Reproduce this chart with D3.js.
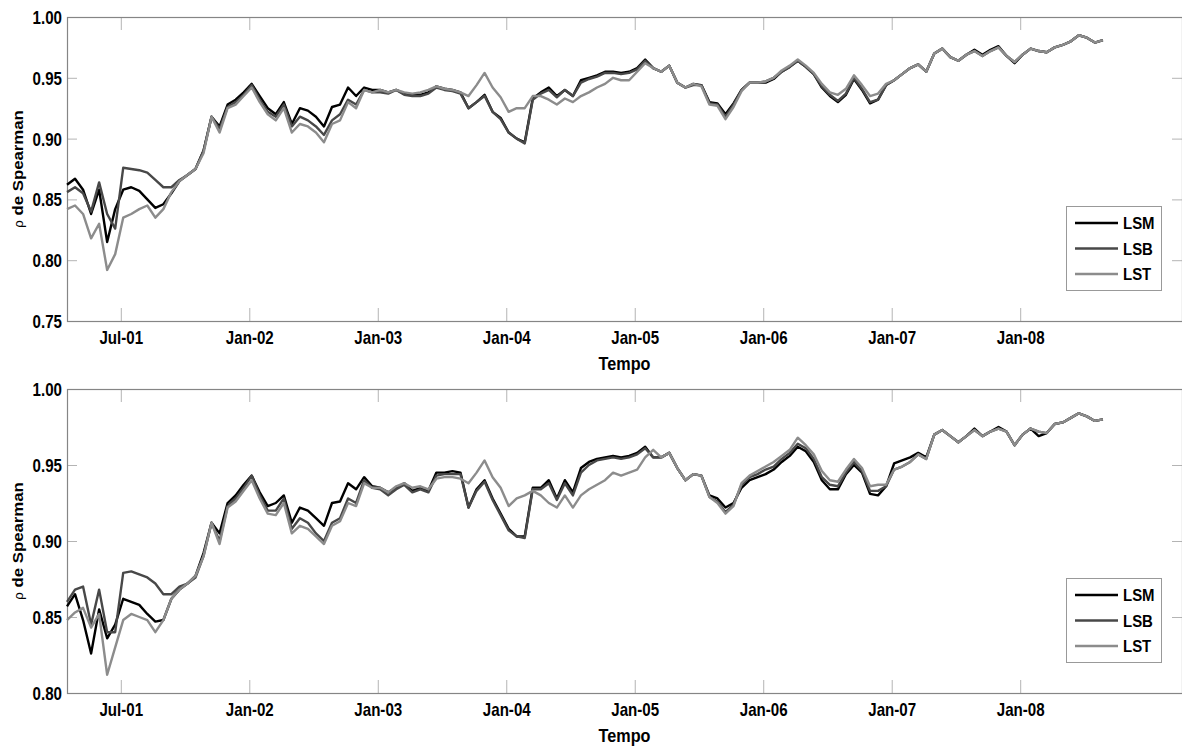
<!DOCTYPE html>
<html>
<head>
<meta charset="utf-8">
<script src="https://cdn.jsdelivr.net/npm/d3@7"></script>
<style>
body { margin: 0; background: #fff; }
text { font-family: "Liberation Sans", Arial, sans-serif; font-weight: bold; fill: #000; }
</style>
</head>
<body>
<script>
var w = 1182, h = 747;

var tickPos = [6.7, 22.7, 38.7, 54.7, 70.7, 86.7, 102.7, 118.7];
var tickLabels = ["Jul-01", "Jan-02", "Jan-03", "Jan-04", "Jan-05", "Jan-06", "Jan-07", "Jan-08"];
var yTicksTop = [0.75, 0.80, 0.85, 0.90, 0.95, 1.00];
var yTicksBot = [0.80, 0.85, 0.90, 0.95, 1.00];
var names = ["LSM", "LSB", "LST"];

// top panel
var lsmTop = [
  0.862,0.867,0.858,0.838,0.858,0.815,0.842,0.858,0.860,0.857,
  0.850,0.843,0.846,0.855,0.865,0.870,0.875,0.890,0.918,0.910,
  0.928,0.932,0.938,0.945,0.935,0.925,0.920,0.930,0.912,0.925,
  0.923,0.918,0.910,0.926,0.928,0.942,0.935,0.942,0.940,0.940,
  0.938,0.940,0.937,0.936,0.936,0.938,0.943,0.941,0.940,0.938,
  0.925,0.930,0.936,0.922,0.917,0.905,0.900,0.897,0.933,0.938,
  0.942,0.935,0.940,0.935,0.948,0.950,0.952,0.955,0.955,0.954,
  0.955,0.958,0.965,0.958,0.955,0.960,0.946,0.942,0.945,0.944,
  0.930,0.929,0.920,0.929,0.940,0.946,0.946,0.946,0.949,0.955,
  0.959,0.964,0.959,0.953,0.942,0.935,0.930,0.936,0.949,0.940,
  0.929,0.932,0.944,0.948,0.953,0.958,0.961,0.955,0.970,0.974,
  0.967,0.964,0.969,0.973,0.969,0.973,0.976,0.968,0.962,0.969,
  0.974,0.972,0.971,0.975,0.977,0.980,0.985,0.983,0.979,0.981];
var lsbTop = [
  0.856,0.860,0.855,0.840,0.864,0.838,0.826,0.876,0.875,0.874,
  0.872,0.866,0.860,0.860,0.866,0.870,0.875,0.890,0.918,0.908,
  0.926,0.930,0.936,0.944,0.932,0.922,0.918,0.928,0.910,0.918,
  0.915,0.910,0.903,0.915,0.920,0.932,0.928,0.940,0.938,0.938,
  0.937,0.940,0.936,0.935,0.935,0.937,0.942,0.940,0.939,0.937,
  0.925,0.930,0.935,0.922,0.916,0.905,0.900,0.896,0.932,0.937,
  0.940,0.934,0.940,0.935,0.946,0.949,0.951,0.954,0.954,0.953,
  0.954,0.957,0.964,0.958,0.955,0.960,0.946,0.942,0.944,0.944,
  0.929,0.928,0.918,0.928,0.940,0.946,0.946,0.947,0.950,0.955,
  0.959,0.964,0.959,0.953,0.943,0.936,0.931,0.937,0.950,0.941,
  0.930,0.932,0.944,0.948,0.953,0.958,0.961,0.955,0.970,0.974,
  0.967,0.964,0.969,0.972,0.968,0.972,0.975,0.968,0.963,0.969,
  0.974,0.972,0.971,0.975,0.977,0.980,0.985,0.983,0.979,0.981];
var lstTop = [
  0.842,0.845,0.838,0.818,0.830,0.792,0.805,0.835,0.838,0.842,
  0.845,0.835,0.842,0.856,0.865,0.870,0.875,0.888,0.918,0.905,
  0.925,0.928,0.935,0.942,0.930,0.920,0.915,0.925,0.905,0.912,
  0.910,0.905,0.897,0.912,0.915,0.930,0.925,0.940,0.938,0.940,
  0.938,0.940,0.938,0.937,0.938,0.940,0.943,0.941,0.940,0.938,
  0.935,0.944,0.954,0.942,0.934,0.922,0.925,0.925,0.935,0.935,
  0.932,0.928,0.933,0.930,0.935,0.938,0.942,0.945,0.950,0.948,
  0.948,0.955,0.962,0.958,0.955,0.960,0.946,0.942,0.945,0.943,
  0.928,0.927,0.916,0.926,0.939,0.946,0.946,0.947,0.950,0.956,
  0.960,0.965,0.960,0.954,0.945,0.938,0.936,0.941,0.952,0.944,
  0.935,0.937,0.945,0.948,0.953,0.958,0.961,0.955,0.970,0.974,
  0.967,0.964,0.969,0.972,0.968,0.972,0.975,0.968,0.963,0.969,
  0.974,0.972,0.971,0.975,0.977,0.980,0.985,0.983,0.979,0.981];

// bottom panel
var lsmBot = [
  0.857,0.865,0.848,0.826,0.855,0.836,0.845,0.862,0.860,0.858,
  0.852,0.847,0.848,0.862,0.868,0.872,0.877,0.892,0.912,0.905,
  0.925,0.930,0.937,0.943,0.932,0.923,0.925,0.930,0.912,0.922,
  0.920,0.915,0.910,0.925,0.926,0.938,0.934,0.942,0.936,0.935,
  0.932,0.935,0.938,0.933,0.935,0.933,0.945,0.945,0.946,0.945,
  0.922,0.934,0.940,0.928,0.918,0.908,0.903,0.903,0.935,0.935,
  0.940,0.928,0.940,0.932,0.948,0.952,0.954,0.955,0.956,0.955,
  0.956,0.958,0.962,0.955,0.955,0.958,0.948,0.940,0.944,0.943,
  0.930,0.928,0.922,0.925,0.935,0.940,0.942,0.944,0.947,0.952,
  0.956,0.962,0.959,0.952,0.940,0.934,0.934,0.944,0.950,0.945,
  0.931,0.930,0.936,0.951,0.953,0.955,0.958,0.955,0.970,0.973,
  0.969,0.965,0.969,0.974,0.969,0.972,0.975,0.972,0.963,0.970,
  0.974,0.969,0.971,0.977,0.978,0.981,0.984,0.982,0.979,0.980];
var lsbBot = [
  0.860,0.868,0.870,0.845,0.868,0.840,0.840,0.879,0.880,0.878,
  0.876,0.872,0.865,0.865,0.870,0.872,0.876,0.890,0.912,0.900,
  0.923,0.928,0.935,0.943,0.930,0.920,0.920,0.928,0.908,0.915,
  0.912,0.905,0.900,0.912,0.915,0.928,0.925,0.940,0.935,0.934,
  0.930,0.934,0.937,0.932,0.934,0.932,0.943,0.944,0.944,0.944,
  0.922,0.933,0.939,0.927,0.917,0.907,0.903,0.902,0.934,0.934,
  0.938,0.927,0.938,0.930,0.945,0.950,0.953,0.954,0.955,0.954,
  0.955,0.957,0.961,0.955,0.955,0.958,0.948,0.940,0.944,0.943,
  0.929,0.926,0.919,0.924,0.937,0.942,0.944,0.947,0.949,0.954,
  0.958,0.964,0.961,0.954,0.942,0.937,0.936,0.945,0.952,0.946,
  0.933,0.933,0.936,0.947,0.949,0.952,0.957,0.954,0.970,0.973,
  0.969,0.965,0.969,0.973,0.969,0.972,0.974,0.972,0.963,0.970,
  0.974,0.972,0.971,0.977,0.978,0.981,0.984,0.982,0.979,0.980];
var lstBot = [
  0.848,0.853,0.856,0.843,0.852,0.812,0.830,0.848,0.852,0.850,
  0.848,0.840,0.848,0.862,0.868,0.872,0.877,0.890,0.912,0.898,
  0.922,0.926,0.933,0.940,0.928,0.918,0.917,0.925,0.905,0.910,
  0.908,0.903,0.898,0.910,0.913,0.925,0.923,0.938,0.935,0.935,
  0.932,0.936,0.938,0.935,0.936,0.934,0.941,0.942,0.942,0.941,
  0.938,0.945,0.953,0.942,0.935,0.923,0.928,0.930,0.933,0.930,
  0.925,0.922,0.930,0.922,0.930,0.934,0.937,0.940,0.945,0.943,
  0.945,0.947,0.955,0.960,0.955,0.958,0.948,0.940,0.944,0.943,
  0.929,0.925,0.918,0.923,0.938,0.943,0.946,0.949,0.952,0.956,
  0.960,0.968,0.963,0.957,0.946,0.940,0.939,0.947,0.954,0.948,
  0.936,0.937,0.937,0.947,0.949,0.952,0.957,0.954,0.970,0.973,
  0.969,0.965,0.969,0.973,0.969,0.972,0.974,0.972,0.963,0.970,
  0.974,0.972,0.971,0.977,0.978,0.981,0.984,0.982,0.979,0.980];

var colors = ["#000000", "#484848", "#8c8c8c"];
var left = 67, right = 1182;

var svg = d3.select("body")
  .append("svg")
  .attr("width", w)
  .attr("height", h);

function drawPanel(top, bottom, yDomain, yTicks, series) {
  var xScale = d3.scaleLinear().domain([0, 138.85]).range([left, right]);
  var yScale = d3.scaleLinear().domain(yDomain).range([bottom, top]);
  var g = svg.append("g");

  // ticks (inside), light grey
  var xb = d3.axisBottom(xScale).tickValues(tickPos)
    .tickFormat(function(d, i) { return tickLabels[i]; })
    .tickSizeInner(-13).tickSizeOuter(0);
  var gxb = g.append("g").attr("transform", "translate(0," + bottom + ")").call(xb);
  gxb.selectAll("text")
    .attr("y", 23).attr("dy", 0)
    .attr("transform", "scale(0.84,1)")
    .style("font-size", "18px");

  var xt = d3.axisTop(xScale).tickValues(tickPos).tickFormat("")
    .tickSizeInner(-13).tickSizeOuter(0);
  g.append("g").attr("transform", "translate(0," + top + ")").call(xt);

  var yl = d3.axisLeft(yScale).tickValues(yTicks).tickFormat(d3.format(".2f"))
    .tickSizeInner(-10).tickSizeOuter(0);
  var gyl = g.append("g").attr("transform", "translate(" + left + ",0)").call(yl);
  gyl.selectAll("text")
    .attr("x", -5 / 0.84).attr("dy", "0.36em")
    .attr("transform", "scale(0.84,1)")
    .style("font-size", "18px");

  var yr = d3.axisRight(yScale).tickValues(yTicks).tickFormat("")
    .tickSizeInner(-10).tickSizeOuter(0);
  g.append("g").attr("transform", "translate(" + right + ",0)").call(yr);

  g.selectAll(".tick line").attr("stroke", "#b4b4b4");
  g.selectAll(".domain").remove();

  // box
  g.append("rect")
    .attr("x", left + 0.5).attr("y", top + 0.5)
    .attr("width", right - left).attr("height", bottom - top)
    .attr("fill", "none").attr("stroke", "#858585").attr("stroke-width", 1.2);

  // lines
  var line = d3.line()
    .x(function(d, i) { return xScale(i); })
    .y(function(d) { return yScale(d); });
  series.forEach(function(s, k) {
    g.append("path")
      .datum(s)
      .attr("fill", "none")
      .attr("stroke", colors[k])
      .attr("stroke-width", 2.4)
      .attr("stroke-linejoin", "round")
      .attr("d", line);
  });

  // axis titles
  g.append("text")
    .attr("transform", "translate(" + ((left + right) / 2) + "," + (bottom + 49) + ") scale(0.9,1)")
    .attr("text-anchor", "middle")
    .style("font-size", "18px")
    .text("Tempo");

  var yt = g.append("text")
    .attr("transform", "translate(23," + ((top + bottom) / 2) + ") rotate(-90) scale(1.12,1)")
    .attr("text-anchor", "middle")
    .style("font-size", "15px");
  yt.append("tspan").style("font-weight", "normal").style("font-size", "12px").text("\u03c1");
  yt.append("tspan").text(" de Spearman");

  // legend
  var lx = 1066, ly = top + 189;
  g.append("rect")
    .attr("x", lx + 0.5).attr("y", ly + 0.5)
    .attr("width", 95).attr("height", 84)
    .attr("fill", "#fff").attr("stroke", "#999").attr("stroke-width", 1);
  names.forEach(function(n, k) {
    var ry = ly + 17 + k * 25.5;
    g.append("line")
      .attr("x1", lx + 9).attr("x2", lx + 52)
      .attr("y1", ry).attr("y2", ry)
      .attr("stroke", colors[k]).attr("stroke-width", 2.5);
    g.append("text")
      .attr("transform", "translate(" + (lx + 57) + "," + ry + ") scale(0.88,1)")
      .attr("dy", "0.36em")
      .style("font-size", "17px")
      .text(n);
  });
}

drawPanel(17, 321, [0.75, 1.00], yTicksTop, [lsmTop, lsbTop, lstTop]);
drawPanel(389, 693, [0.80, 1.00], yTicksBot, [lsmBot, lsbBot, lstBot]);
</script>
</body>
</html>
